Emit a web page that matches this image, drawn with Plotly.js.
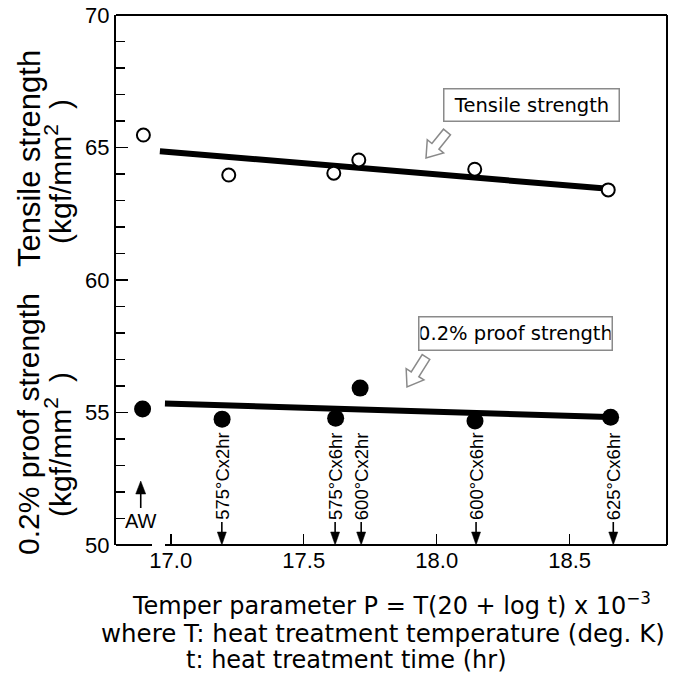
<!DOCTYPE html>
<html>
<head>
<meta charset="utf-8">
<script src="https://cdn.plot.ly/plotly-3.0.1.min.js"></script>
<style>html,body{margin:0;padding:0;background:#fff;}</style>
</head>
<body>
<div id="chart" style="width:683px;height:681px;"></div>
<script>
// ---- data ----
const condLabels = ['AW', '575°Cx2hr', '575°Cx6hr', '600°Cx2hr', '600°Cx6hr', '625°Cx6hr'];
const condP = [16.887, 17.192, 17.618, 17.716, 18.148, 18.664];

const tensileP = [16.897, 17.218, 17.613, 17.707, 18.143, 18.645];
const tensile = [65.47, 63.96, 64.03, 64.53, 64.18, 63.40];

const proofP = [16.894, 17.193, 17.620, 17.712, 18.144, 18.654];
const proof = [55.13, 54.75, 54.78, 55.92, 54.68, 54.82];

const tensileFitP = [16.959, 18.657];
const tensileFit = [64.86, 63.43];
const proofFitP = [16.978, 18.676];
const proofFit = [55.34, 54.82];

const xTickVals = [17.0, 17.5, 18.0, 18.5];
const xTickText = ['17.0', '17.5', '18.0', '18.5'];

// ---- layout helpers ----
const W = 683, H = 681;
const L = 116, R = 667, T = 15, B = 545;
const px2x = px => (px - L) / (R - L);
const py2y = py => (B - py) / (B - T);

const SANS = 'Liberation Sans, Arial, Helvetica, sans-serif';
const WIDE = 'DejaVu Sans, Verdana, sans-serif';

// hollow block arrow, pixel path relative to its tail (y up positive)
function blockArrow(dx, dy) {
  const Lh = Math.hypot(dx, dy);
  const ux = dx / Lh, uy = dy / Lh;
  const nx = -uy, ny = ux;
  const w = 9, Hh = 21, h = 15;
  const b = Lh - h;
  const pts = [
    [nx * w / 2, ny * w / 2],
    [ux * b + nx * w / 2, uy * b + ny * w / 2],
    [ux * b + nx * Hh / 2, uy * b + ny * Hh / 2],
    [dx, dy],
    [ux * b - nx * Hh / 2, uy * b - ny * Hh / 2],
    [ux * b - nx * w / 2, uy * b - ny * w / 2],
    [-nx * w / 2, -ny * w / 2]
  ];
  return 'M' + pts.map(p => p[0].toFixed(2) + ',' + p[1].toFixed(2)).join('L') + 'Z';
}

const traces = [
  {x: tensileFitP, y: tensileFit, mode: 'lines', line: {color: '#000', width: 6}, hoverinfo: 'skip'},
  {x: proofFitP, y: proofFit, mode: 'lines', line: {color: '#000', width: 6}, hoverinfo: 'skip'},
  {x: tensileP, y: tensile, mode: 'markers',
   marker: {symbol: 'circle', size: 13, color: '#fff', line: {color: '#000', width: 2}}},
  {x: proofP, y: proof, mode: 'markers',
   marker: {symbol: 'circle', size: 17, color: '#000', line: {color: '#000', width: 0}}}
];

const annotations = [];

// boxed series labels
annotations.push({
  xref: 'paper', yref: 'paper', x: px2x(531.5), y: py2y(105), xanchor: 'center', yanchor: 'middle',
  text: 'Tensile strength', showarrow: false, font: {family: WIDE, size: 19.5, color: '#000'},
  bordercolor: '#8a8a8a', borderwidth: 1.5, bgcolor: '#fff', width: 172, height: 29, borderpad: 1
});
annotations.push({
  xref: 'paper', yref: 'paper', x: px2x(515), y: py2y(333.5), xanchor: 'center', yanchor: 'middle',
  text: '0.2% proof strength', showarrow: false, font: {family: WIDE, size: 19.5, color: '#000'},
  bordercolor: '#8a8a8a', borderwidth: 1.5, bgcolor: '#fff', width: 190, height: 30, borderpad: 1
});

// y-axis titles (two stacked, rotated)
const yTitles = [
  {text: 'Tensile strength', px: 29, py: 159, size: 31},
  {text: '(kgf/mm<sup>2</sup>\u2002)', px: 58, py: 172, size: 30},
  {text: '0.2% proof strength', px: 29, py: 424, size: 30},
  {text: '(kgf/mm<sup>2</sup>\u2002)', px: 58, py: 445, size: 30}
];
yTitles.forEach(t => annotations.push({
  xref: 'paper', yref: 'paper', x: px2x(t.px), y: py2y(t.py), xanchor: 'center', yanchor: 'middle',
  text: t.text, textangle: -90, showarrow: false, font: {family: SANS, size: t.size, color: '#000'}
}));

// x-axis title lines
annotations.push({
  xref: 'paper', yref: 'paper', x: px2x(391), y: py2y(604), xanchor: 'center', yanchor: 'middle',
  text: 'Temper parameter P = T(20 + log t) x 10<sup>−3</sup>', showarrow: false,
  font: {family: WIDE, size: 24, color: '#000'}
});
annotations.push({
  xref: 'paper', yref: 'paper', x: px2x(383), y: py2y(633), xanchor: 'center', yanchor: 'middle',
  text: 'where T: heat treatment temperature (deg. K)', showarrow: false,
  font: {family: WIDE, size: 24.5, color: '#000'}
});
annotations.push({
  xref: 'paper', yref: 'paper', x: px2x(184), y: py2y(660), xanchor: 'left', yanchor: 'middle',
  text: 't: heat treatment time (hr)', showarrow: false,
  font: {family: WIDE, size: 24, color: '#000'}
});

// condition labels (rotated text sitting on a down arrow)
for (let i = 1; i < condLabels.length; i++) {
  annotations.push({
    xref: 'x', yref: 'paper', x: condP[i], y: py2y(521), xanchor: 'center', yanchor: 'bottom',
    text: condLabels[i], textangle: -90, showarrow: false, borderpad: 0,
    font: {family: SANS, size: 18.5, color: '#000'}
  });
}
// AW label
annotations.push({
  xref: 'x', yref: 'paper', x: condP[0], y: py2y(521), xanchor: 'center', yanchor: 'middle',
  text: condLabels[0], showarrow: false, borderpad: 0,
  font: {family: SANS, size: 20, color: '#000'}
});

const shapes = [
  {type: 'line', xref: 'paper', yref: 'paper', x0: 0, x1: 1, y0: 1, y1: 1, line: {color: '#000', width: 2}},
  {type: 'line', xref: 'paper', yref: 'paper', x0: 1, x1: 1, y0: 0, y1: 1, line: {color: '#000', width: 2}},
  {type: 'line', xref: 'paper', yref: 'paper', x0: 0, x1: px2x(152), y0: 0, y1: 0, line: {color: '#000', width: 2}},
  {type: 'line', xref: 'paper', yref: 'paper', x0: px2x(165), x1: 1, y0: 0, y1: 0, line: {color: '#000', width: 2}},
  {type: 'path', xref: 'paper', yref: 'paper', xsizemode: 'pixel', ysizemode: 'pixel',
   xanchor: px2x(447), yanchor: py2y(132), path: blockArrow(-21, -26),
   line: {color: '#8a8a8a', width: 1.5}, fillcolor: '#fff'},
  {type: 'path', xref: 'paper', yref: 'paper', xsizemode: 'pixel', ysizemode: 'pixel',
   xanchor: px2x(426), yanchor: py2y(357), path: blockArrow(-19, -30),
   line: {color: '#8a8a8a', width: 1.5}, fillcolor: '#fff'}
];

// down arrows under the condition labels
for (let i = 1; i < condP.length; i++) {
  shapes.push({type: 'line', xref: 'x', yref: 'paper', x0: condP[i], x1: condP[i],
    y0: py2y(522), y1: py2y(535), line: {color: '#000', width: 1.6}});
  shapes.push({type: 'path', xref: 'x', yref: 'paper', xsizemode: 'pixel', ysizemode: 'pixel',
    xanchor: condP[i], yanchor: 0, path: 'M-4.5,13L4.5,13L0,0Z',
    line: {color: '#000', width: 0.5}, fillcolor: '#000'});
}
// up arrow for AW
shapes.push({type: 'line', xref: 'x', yref: 'paper', x0: condP[0], x1: condP[0],
  y0: py2y(508), y1: py2y(492), line: {color: '#000', width: 1.6}});
shapes.push({type: 'path', xref: 'x', yref: 'paper', xsizemode: 'pixel', ysizemode: 'pixel',
  xanchor: condP[0], yanchor: py2y(481), path: 'M-5,-13L5,-13L0,0Z',
  line: {color: '#000', width: 0.5}, fillcolor: '#000'});

const layout = {
  width: W, height: H,
  margin: {l: L, r: W - R, t: T, b: H - B},
  paper_bgcolor: '#fff', plot_bgcolor: '#fff',
  showlegend: false,
  xaxis: {
    range: [16.794, 18.866], tickvals: xTickVals, ticktext: xTickText,
    ticks: 'inside', ticklen: 11, tickwidth: 1.5, tickcolor: '#000',
    showline: false, showgrid: false, zeroline: false,
    tickfont: {family: SANS, size: 22, color: '#000'}
  },
  yaxis: {
    range: [50, 70], tickvals: [50, 55, 60, 65, 70],
    ticks: 'inside', ticklen: 12, tickwidth: 1.5, tickcolor: '#000',
    minor: {tickvals: [51,52,53,54,56,57,58,59,61,62,63,64,66,67,68,69], ticks: 'inside', ticklen: 9, tickwidth: 1.5, tickcolor: '#000', showgrid: false},
    showline: true, linewidth: 2, linecolor: '#000',
    showgrid: false, zeroline: false,
    tickfont: {family: SANS, size: 22, color: '#000'}
  },
  annotations: annotations,
  shapes: shapes
};

Plotly.newPlot('chart', traces, layout, {displayModeBar: false, staticPlot: true});
</script>
</body>
</html>
